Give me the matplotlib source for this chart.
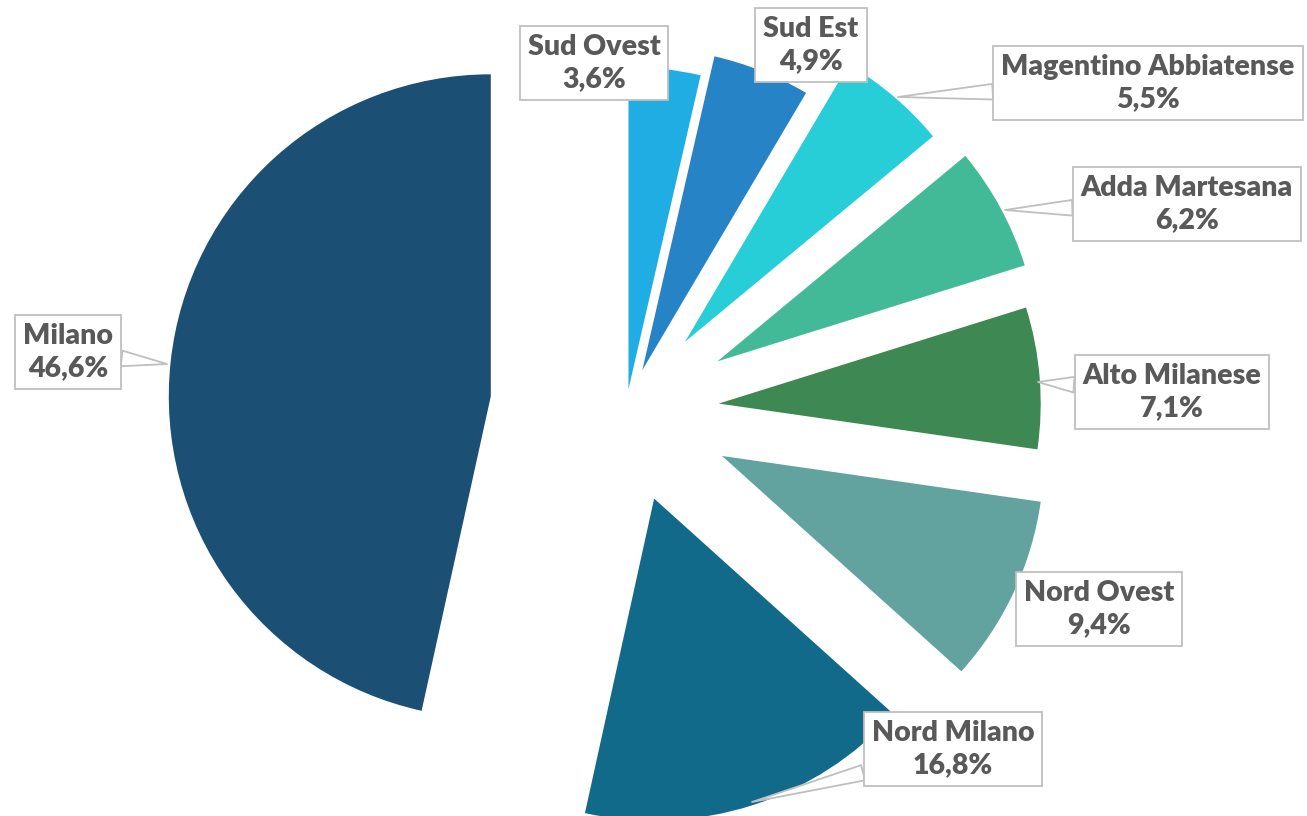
import matplotlib.pyplot as plt
import numpy as np

# Dati: quota per area (%)
aree = ['Sud Ovest', 'Sud Est', 'Magentino Abbiatense', 'Adda Martesana',
        'Alto Milanese', 'Nord Ovest', 'Nord Milano', 'Milano']
quote = [3.6, 4.9, 5.5, 6.2, 7.1, 9.4, 16.8, 46.6]
colori = ['#1FADE4', '#2683C6', '#27CED7', '#42BA97',
          '#3E8853', '#62A39F', '#116A8A', '#1B4F73']

# distanza di esplosione di ogni fetta (pixel)
esplosione = [22, 44, 91, 104, 93, 106, 92, 136]

W, H = 1307, 816
fig = plt.figure(figsize=(W / 100, H / 100), dpi=100)
ax = fig.add_axes([0, 0, 1, 1])

ax.pie(quote, colors=colori, explode=esplosione, radius=322,
       center=(626, H - 411), startangle=90, counterclock=False,
       wedgeprops=dict(linewidth=0), frame=True)
ax.set_xlim(0, W)
ax.set_ylim(0, H)
ax.set_aspect('equal')
ax.axis('off')

# posizione etichette (centro box) e punta del richiamo, in pixel dall'alto
pos_etichette = [(594, 63), (811, 45), (1148, 83), (1187, 204),
                 (1172, 392), (1099, 609), (953, 749), (68, 352)]
punte = [None, None, (898, 97), (1005, 210),
         (1038, 382), None, (752, 802), (167, 364)]

box = dict(boxstyle='square,pad=0.28', fc='white', ec='#BFBFBF', lw=1.3)
stile = dict(ha='center', va='center', fontsize=20.5, fontweight='heavy',
             family='Lato', color='#595959', linespacing=1.3, bbox=box,
             zorder=5)
for nome, q, (lx, ly), punta in zip(aree, quote, pos_etichette, punte):
    testo = nome + '\n' + f'{q:.1f}'.replace('.', ',') + '%'
    if punta is None:
        ax.text(lx, H - ly, testo, **stile)
    else:
        ax.annotate(testo, xy=(punta[0], H - punta[1]), xytext=(lx, H - ly),
                    arrowprops=dict(arrowstyle='wedge,tail_width=0.55',
                                    fc='white', ec='#BFBFBF', lw=1.3,
                                    shrinkA=0, shrinkB=0),
                    **stile)

fig.savefig('out.png', dpi=100)
